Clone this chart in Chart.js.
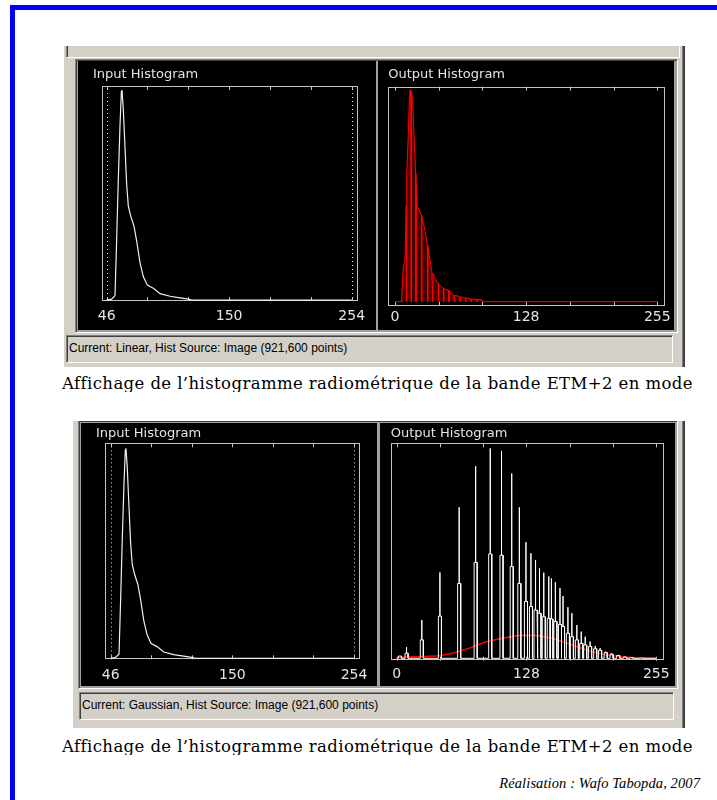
<!DOCTYPE html>
<html lang="fr">
<head>
<meta charset="utf-8">
<title>Histogrammes ETM+2</title>
<script src="https://cdn.jsdelivr.net/npm/chart.js@4.4.1/dist/chart.umd.min.js"></script>
<style>
  html, body { margin: 0; padding: 0; background: #fff; }
  body { position: relative; width: 717px; height: 800px; overflow: hidden; }
  .abs { position: absolute; box-sizing: border-box; }
  .blue { background: #0000ff; }
  .win { background: #d4d0c8; overflow: hidden; border-right: 2px solid #404040; box-shadow: inset -1px 0 #808080, inset 1px 0 #ffffff; }
  .sunken { border: 1px solid; border-color: #808080 #ffffff #ffffff #808080; box-shadow: inset 1px 1px #404040; }
  .group { background: #a0a0a0; }
  .status { font-family: "Liberation Sans", Arial, sans-serif; font-size: 12px; color: #000; line-height: 25px; padding-left: 2px; white-space: nowrap; }
  .cap { font-family: "DejaVu Serif", serif; font-size: 16.5px; letter-spacing: 0.4px; color: #000; white-space: nowrap; line-height: 18px; height: 17px; overflow: hidden; }
  .credit { font-family: "Liberation Serif", serif; font-style: italic; font-size: 14.5px; letter-spacing: 0.1px; color: #000; white-space: nowrap; line-height: 18px; text-align: right; }
  canvas.panel { position: absolute; background: #000; }
</style>
</head>
<body>
<div class="abs blue" style="left:10px;top:5px;width:707px;height:5px"></div>
<div class="abs blue" style="left:10px;top:5px;width:5px;height:795px"></div>

<!-- fenetre 1 : etirement lineaire -->
<div class="abs win" style="left:63px;top:46px;width:622px;height:321px">
  <div class="abs sunken" style="left:3px;top:-6px;width:614px;height:18px"></div>
  <div class="abs sunken group" style="left:12px;top:13px;width:603px;height:274px"></div>
  <div class="abs sunken status" style="left:3px;top:289px;width:607px;height:28px">Current: Linear, Hist Source: Image (921,600 points)</div>
</div>
<canvas id="in1" class="panel" width="298" height="269" style="left:78px;top:61px"></canvas>
<canvas id="out1" class="panel" width="296" height="269" style="left:378px;top:61px"></canvas>
<div class="abs cap" style="left:62px;top:375px">Affichage de l’histogramme radiométrique de la bande ETM+2 en mode</div>

<!-- fenetre 2 : etirement gaussien -->
<div class="abs win" style="left:72px;top:421px;width:613px;height:307px">
  <div class="abs sunken group" style="left:6px;top:-1px;width:600px;height:269px"></div>
  <div class="abs sunken status" style="left:7px;top:271px;width:595px;height:28px">Current: Gaussian, Hist Source: Image (921,600 points)</div>
</div>
<canvas id="in2" class="panel" width="296" height="263" style="left:81px;top:423px"></canvas>
<canvas id="out2" class="panel" width="295" height="263" style="left:380px;top:423px"></canvas>
<div class="abs cap" style="left:62px;top:738px">Affichage de l’histogramme radiométrique de la bande ETM+2 en mode</div>

<div class="abs credit" style="left:400px;top:774px;width:300px">Réalisation : Wafo Tabopda, 2007</div>

<script>
// histogramme d'entree (niveaux de gris 46-254), milliers de pixels
const inputValues = [46, 50.2, 53.1, 54.5, 55.9, 57.3, 58.5, 59, 60.1, 61.6,
  63, 64.4, 66.4, 69.2, 71.5, 74.3, 77.1, 80.5, 85.6, 91.3,
  99.8, 108.3, 115.3, 118.2, 254];
const inputCounts = [0, 0.3, 1.4, 19.1, 38, 54.7, 65.7, 66.2, 60.4, 47.9,
  36.4, 29.6, 26.5, 23.3, 18.6, 11.8, 7.4, 4.7, 3.7, 2,
  1.2, 0.7, 0.3, 0, 0];

// sortie etirement lineaire (0-255) avec les classes vides
const linearOutValues = [0, 6, 6.5, 8.1, 9.7, 10.9, 11.2, 11.6, 13, 13.9,
  14.6, 15.3, 15.6, 15.9, 16.2, 17.2, 18.5, 20.1, 20.4, 20.7,
  21.7, 23.7, 25.8, 26, 26.2, 27.6, 29.2, 31.4, 31.8, 32.1,
  33.4, 35.7, 36.7, 37, 38.9, 42.1, 42.3, 42.6, 47, 47.3,
  47.6, 51.8, 52.5, 52.8, 56.7, 57.9, 58.2, 63, 63.3, 63.6,
  68.5, 68.7, 69, 72.9, 74, 74.3, 79.4, 79.6, 79.9, 84.8,
  85, 85.3, 86, 255];
const linearOutCounts = [0, 0, 1.6, 10.9, 13, 30, 0, 40, 52.6, 63,
  66.2, 64, 0, 65, 65.7, 63, 52.6, 40.1, 0, 37,
  29.7, 28.7, 26.8, 0, 26.4, 24.5, 22.4, 17.8, 0, 17,
  14.1, 9.9, 0, 9, 7.3, 5.7, 0, 5.5, 4.2, 0,
  4.1, 3.6, 0, 3.3, 2.1, 0, 2, 1.6, 0, 1.5,
  1.2, 0, 1.2, 1, 0, 0.9, 0.7, 0, 0.7, 0.5,
  0, 0.5, 0, 0];

// sortie etirement gaussien : pics, hauteur du pic et de la base
const gaussSpikeValues = [3.2, 9.7, 24.7, 42.5, 61.4, 77.6, 91.9, 103, 113, 120.5,
  127, 131.9, 136.4, 140.3, 144.5, 149.4, 152, 155.9, 160.4, 163.4,
  168.2, 172.1, 177, 181.3, 185.2, 190, 195, 199.8, 205.3, 211.1,
  217.6, 224.2, 230.6, 240.4];
const gaussSpikeCounts = [0.7, 3.5, 12.1, 27.1, 47.6, 60.6, 66.2, 65.4, 58.3, 47.6,
  36.6, 33.1, 31, 28.4, 27, 25.8, 25.2, 24, 22.1, 19.6,
  16.1, 14.2, 10.5, 8.4, 6.8, 5.3, 3.9, 3.2, 2.1, 1.6,
  1.05, 0.5, 0.3, 0.1];
const gaussBoxCounts = [0.7, 1.6, 5.8, 13.3, 23.6, 30.2, 32.9, 32.5, 28.9, 23.6,
  17.9, 16.3, 15.2, 14.2, 13.1, 12.6, 12.4, 11.6, 10.7, 10,
  7.9, 6.8, 5.8, 4.7, 4.2, 3.7, 3, 2.5, 1.8, 1.3,
  0.9, 0.4, 0.2, 0.1];

// courbe gaussienne cible (rouge)
const gaussTargetValues = [0, 9.7, 22.7, 42.2, 55.2, 71.4, 87.7, 103.9, 117, 126.7,
  139.7, 152.6, 165.6, 178.7, 191.6, 207.9, 220.9, 233.9, 255];
const gaussTargetCounts = [0, 0.5, 0.5, 0.8, 1.6, 3.2, 5.2, 6.3, 7.1, 7.3,
  7.1, 6.3, 5, 3.5, 2.1, 1, 0.5, 0.2, 0];

const inputTicks = [46, 80.67, 115.33, 150, 184.67, 219.33, 254];
const inputTickLabels = ["46", "", "", "150", "", "", "254"];
const outputTicks = [0, 42.5, 85, 127.5, 170, 212.5, 255];
const outputTickLabels = ["0", "", "", "128", "", "", "255"];
const stretchLimits = [46, 254];

function toPoints(xs, ys) {
  return xs.map(function(x, i) { return { x: x, y: ys[i] }; });
}

var gaussPoints = [{ x: 0, y: 0 }];
gaussSpikeValues.forEach(function(v, i) {
  var s = gaussSpikeCounts[i], b = gaussBoxCounts[i];
  gaussPoints.push({ x: v - 1.5, y: 0 }, { x: v - 1.5, y: b }, { x: v, y: b },
    { x: v, y: s }, { x: v, y: b }, { x: v + 1.5, y: b }, { x: v + 1.5, y: 0 });
});
gaussPoints.push({ x: 255, y: 0 });

// cadre gris, graduations internes et limites pointillees
const framePlugin = {
  id: "histFrame",
  beforeDatasetsDraw: function(chart, args, opts) {
    var ctx = chart.ctx, a = chart.chartArea, x = chart.scales.x;
    ctx.save();
    ctx.strokeStyle = "#c4c4c4";
    ctx.lineWidth = 1;
    ctx.strokeRect(Math.round(a.left) + 0.5, Math.round(a.top) + 0.5,
      Math.round(a.right - a.left) - 1, Math.round(a.bottom - a.top) - 1);
    ctx.beginPath();
    x.ticks.forEach(function(t) {
      var px = Math.round(x.getPixelForValue(t.value)) + 0.5;
      ctx.moveTo(px, a.top); ctx.lineTo(px, a.top + 4);
      ctx.moveTo(px, a.bottom); ctx.lineTo(px, a.bottom - 4);
    });
    ctx.stroke();
    if (opts.limits) {
      ctx.setLineDash([1, 3]);
      ctx.strokeStyle = "#d8d8d8";
      ctx.beginPath();
      opts.limits.forEach(function(v) {
        var px = Math.round(x.getPixelForValue(v)) + 0.5;
        ctx.moveTo(px, a.top + 3); ctx.lineTo(px, a.bottom - 2);
      });
      ctx.stroke();
    }
    ctx.restore();
  }
};

function histChart(id, title, datasets, ax) {
  return new Chart(document.getElementById(id), {
    type: "line",
    data: { datasets: datasets },
    plugins: [framePlugin],
    options: {
      responsive: false,
      animation: false,
      events: [],
      layout: { padding: { left: ax.padLeft, right: ax.padRight, top: 0, bottom: 0 } },
      elements: { point: { radius: 0 }, line: { tension: 0 } },
      plugins: {
        legend: { display: false },
        tooltip: { enabled: false },
        title: {
          display: true, text: title, align: "start", color: "#e4e4e4",
          font: { family: "DejaVu Sans", size: 13, weight: "normal" },
          padding: { top: ax.titleTop, bottom: ax.titleBottom }
        },
        histFrame: { limits: ax.limits }
      },
      scales: {
        x: {
          type: "linear", min: ax.xMin, max: ax.xMax,
          afterBuildTicks: function(s) { s.ticks = ax.ticks.map(function(v) { return { value: v }; }); },
          afterFit: function(s) { s.height = ax.axisHeight; },
          grid: { display: false, drawTicks: false },
          border: { display: false },
          ticks: {
            autoSkip: false, maxRotation: 0, padding: ax.tickPadding, color: "#e4e4e4",
            font: { family: "DejaVu Sans", size: 14 },
            callback: function(v, i) { return ax.labels[i]; }
          }
        },
        y: {
          min: ax.yMin, max: ax.yMax,
          afterFit: function(s) { s.width = ax.yWidth; },
          grid: { display: false, drawTicks: false },
          border: { display: false },
          ticks: { display: false }
        }
      }
    }
  });
}

var inputLine = function() {
  return { data: toPoints(inputValues, inputCounts), borderColor: "#f0f0f0", borderWidth: 1.2, fill: false };
};

histChart("in1", "Input Histogram", [inputLine()], {
  padLeft: 15, yWidth: 8.7, padRight: 18.3, titleTop: 6.2, titleBottom: 3.2,
  axisHeight: 29, tickPadding: 7.1, xMin: 41.8, xMax: 259.1, yMin: -0.3, yMax: 67.45,
  ticks: inputTicks, labels: inputTickLabels, limits: stretchLimits
});

histChart("out1", "Output Histogram", [{
  data: toPoints(linearOutValues, linearOutCounts), borderColor: "#ff0000", borderWidth: 1,
  fill: "origin", backgroundColor: "rgba(130,0,0,0.55)"
}], {
  padLeft: 10.3, yWidth: 0, padRight: 8.3, titleTop: 6.2, titleBottom: 3.9,
  axisHeight: 24.3, tickPadding: 2.9, xMin: -6.5, xMax: 263.2, yMin: -1.25, yMax: 67.2,
  ticks: outputTicks, labels: outputTickLabels
});

histChart("in2", "Input Histogram", [inputLine()], {
  padLeft: 15, yWidth: 9, padRight: 17, titleTop: 2.5, titleBottom: 2.2,
  axisHeight: 26.7, tickPadding: 7.3, xMin: 41.1, xMax: 259.1, yMin: -0.3, yMax: 67.8,
  ticks: inputTicks, labels: inputTickLabels, limits: stretchLimits
});

histChart("out2", "Output Histogram", [
  { data: gaussPoints, borderColor: "#ffffff", borderWidth: 1, fill: false },
  { data: toPoints(gaussTargetValues, gaussTargetCounts), borderColor: "#ff0000", borderWidth: 1.5, fill: false }
], {
  padLeft: 10.7, yWidth: 0, padRight: 9, titleTop: 2.5, titleBottom: 2.2,
  axisHeight: 25.3, tickPadding: 5.1, xMin: -5.85, xMax: 262.5, yMin: -0.76, yMax: 67.8,
  ticks: outputTicks, labels: outputTickLabels
});
</script>
</body>
</html>
